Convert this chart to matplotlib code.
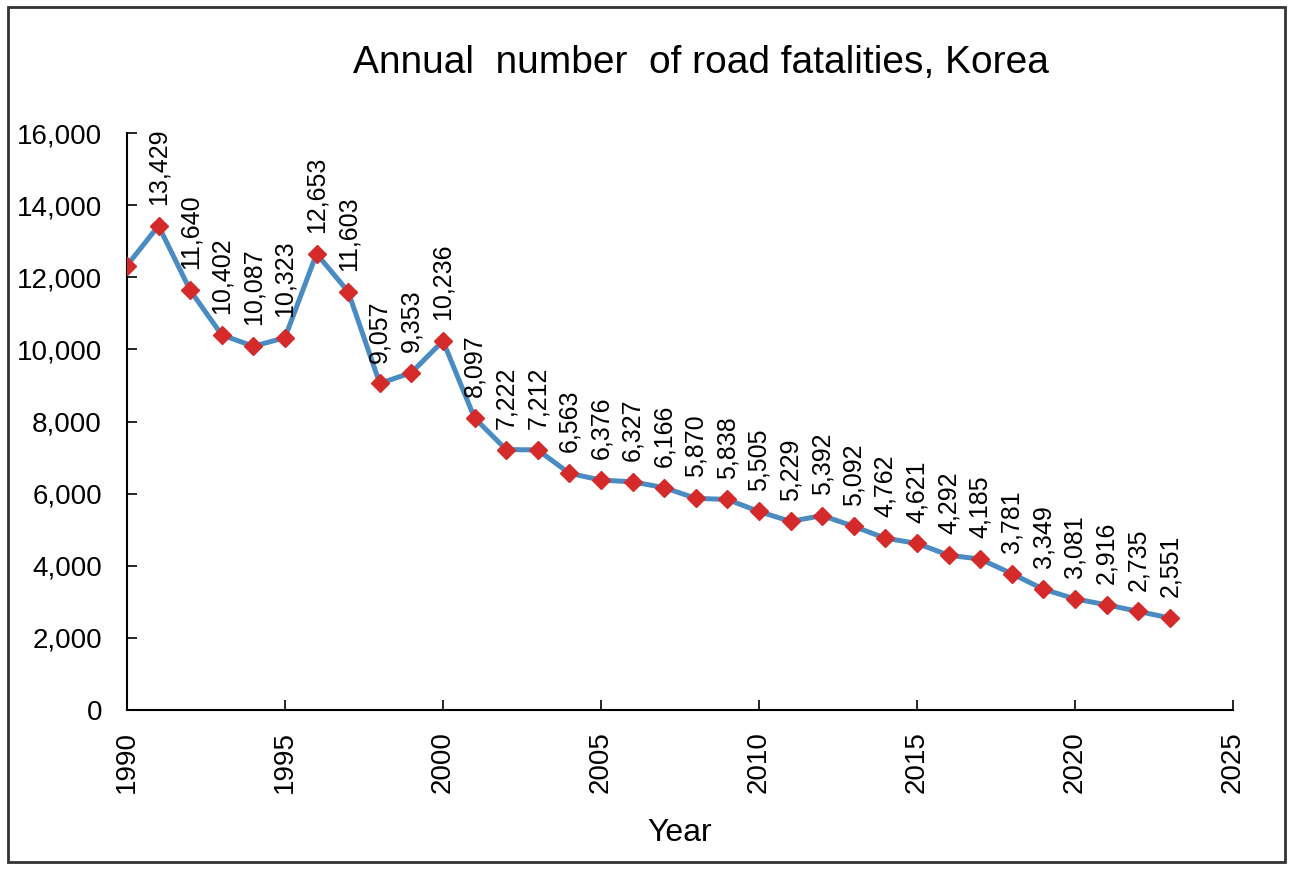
import numpy as np
import matplotlib.pyplot as plt
from matplotlib.patches import Rectangle
from matplotlib.ticker import FuncFormatter

plt.rcParams['font.family'] = ['Liberation Sans', 'DejaVu Sans']

years = np.arange(1990, 2024)
deaths = np.array([12325, 13429, 11640, 10402, 10087, 10323, 12653, 11603, 9057, 9353,
                   10236, 8097, 7222, 7212, 6563, 6376, 6327, 6166, 5870, 5838,
                   5505, 5229, 5392, 5092, 4762, 4621, 4292, 4185, 3781, 3349,
                   3081, 2916, 2735, 2551])
# 1990 point has no label in the original
labelled = years >= 1991

fig = plt.figure(figsize=(12.9, 8.69), dpi=100)
ax = fig.add_axes([0.0984, 0.183, 0.8574, 0.6639])

ax.plot(years, deaths, color="#4a8bc2", lw=3.6, zorder=2)
ax.plot(years, deaths, ls="none", marker="D", ms=9.5, color="#d42a2a", zorder=3)

for x, y in zip(years[labelled], deaths[labelled]):
    ax.annotate(f"{y:,}", (x, y), xytext=(0, 15), textcoords="offset points",
                rotation=90, ha="center", va="bottom", fontsize=18)

ax.set_xlim(1990, 2025)
ax.set_ylim(0, 16000)
ax.set_xticks(np.arange(1990, 2026, 5))
ax.set_yticks(np.arange(0, 16001, 2000))
ax.yaxis.set_major_formatter(FuncFormatter(lambda v, p: f"{int(v):,}"))
ax.tick_params(direction="in", length=7, width=1.2, labelsize=20, pad=18)
ax.tick_params(axis="x", labelrotation=90, pad=15)
for s in ["top", "right"]:
    ax.spines[s].set_visible(False)
for s in ["left", "bottom"]:
    ax.spines[s].set_linewidth(1.5)

ax.set_xlabel("Year", fontsize=23, labelpad=18)
fig.text(0.543, 0.928, "Annual  number  of road fatalities, Korea", ha="center", va="center",
         fontsize=28)

fig.patches.append(Rectangle((8 / 1290, 7 / 869), 1277 / 1290, 855 / 869,
                             transform=fig.transFigure, fill=False, lw=2, ec="#333333"))

fig.savefig("out.png", dpi=100)
